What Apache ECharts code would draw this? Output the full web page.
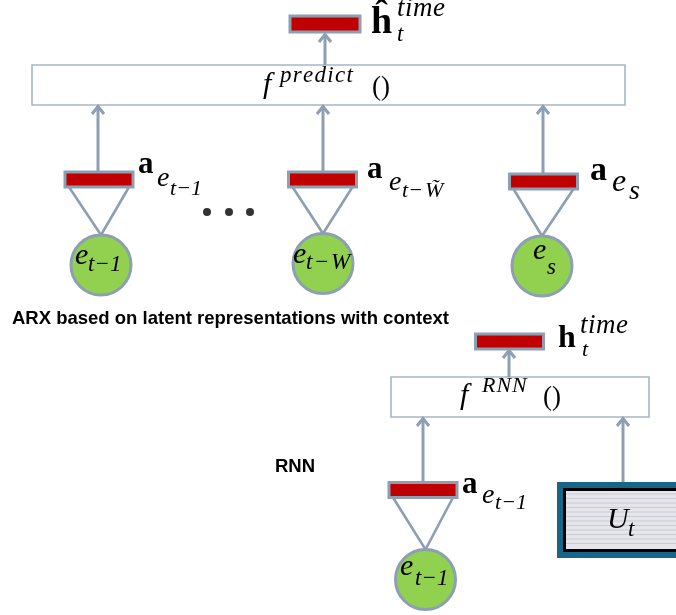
<!DOCTYPE html>
<html><head><meta charset="utf-8">
<script src="https://cdn.jsdelivr.net/npm/echarts@6/dist/echarts.min.js"></script>
<style>html,body{margin:0;padding:0;background:#fff}#c{width:676px;height:615px}</style>
</head><body><div id="c"></div>
<script>
// ---- diagram content, in diagram units (x right, y down) ----
const functionBoxes = [[32, 65, 625, 105], [391, 377, 649, 417]];       // f^predict(), f^RNN()
const signalBoxes = [[557, 482, 700, 558]];                             // U_t
const outputBars = [[325, 24], [509.5, 341.5]];                          // ĥ_t^time, h_t^time
const embedBars = [[99, 179.5], [322.5, 179.5], [543.5, 181.5], [423, 490]]; // a_e
const eventNodes = [[101, 265], [323, 263.5], [542, 266], [425.5, 579.5]];   // e nodes
const arrowLinks = [[325, 65, 33], [98, 172, 105], [323, 172, 105], [543, 174, 105], [509, 377, 349], [423, 483, 417], [623, 482, 417]];
const ellipsisDots = [[207, 212], [229, 212], [250, 212]];
const captions = [['ARX based on latent representations with context', 12, 325], ['RNN', 275, 473]];
const mathText = [
  ['ĥ', 371, 36, 38, 'b', 0], ['time', 397, 18, 27, 'i', 0.5], ['t', 397, 43, 23, 'i', 0],
  ['f', 263, 95, 30, 'i', 0], ['predict', 280, 84, 23, 'i', 1.3], ['()', 372, 97, 27, 'r', 0],
  ['a', 138, 175, 31, 'b', 0], ['e', 157, 188, 28, 'i', 0], ['t−1', 170, 197, 22, 'i', 0],
  ['a', 367, 180, 31, 'b', 0], ['e', 389, 192, 28, 'i', 0], ['t−', 402, 199, 22, 'i', 0], ['W', 425, 199, 22, 'i', 0], ['˜', 431, 196, 22, 'i', 0],
  ['a', 590, 183, 34, 'b', 0], ['e', 612, 193, 32, 'i', 0], ['s', 629, 201, 28, 'i', 0],
  ['e', 75, 266, 30, 'i', 0], ['t−1', 88, 273, 23, 'i', 0],
  ['e', 293, 265, 30, 'i', 0], ['t−W', 306, 271, 23, 'i', 1.5],
  ['e', 533, 261, 30, 'i', 0], ['s', 547, 276, 23, 'i', 0],
  ['f', 460, 406, 30, 'i', 0], ['RNN', 482, 394, 22, 'i', 1], ['()', 543, 407, 27, 'r', 0],
  ['h', 558, 350, 32, 'b', 0], ['time', 580, 335, 27, 'i', 0.5], ['t', 582, 358, 22, 'i', 0],
  ['a', 462, 495, 31, 'b', 0], ['e', 482, 505, 28, 'i', 0], ['t−1', 495, 511, 22, 'i', 0],
  ['e', 400, 577, 30, 'i', 0], ['t−1', 415, 587, 23, 'i', 0],
  ['U', 607, 530, 30, 'i', 0], ['t', 628, 538, 23, 'i', 0]
];

// ---- styling ----
const LINE = '#8c9fb3', BOX = '#a6b6c7', RED = '#c00000', GREEN = '#92d050', TEAL = '#17668a';
const BAR_W = 68, BAR_H = 15, NODE_R = 30;
const SERIF = '"Liberation Serif", "Times New Roman", serif';
const SANS = '"Liberation Sans", Arial, sans-serif';
const mctx = document.createElement('canvas').getContext('2d');
function fontOf(size, st) {
  if (st === 'sans') return 'bold ' + size + 'px ' + SANS;
  return (st === 'b' ? 'bold ' : st === 'i' ? 'italic ' : '') + size + 'px ' + SERIF;
}
function textGroup(str, p, size, font, sp, asc) {
  mctx.font = font;
  const kids = []; let x = p[0];
  const y = p[1] - asc * size;
  for (const ch of str) {
    kids.push({ type: 'text', x: x, y: y, style: { text: ch, font: font, fill: '#000', align: 'left', verticalAlign: 'middle', textAlign: 'left', textVerticalAlign: 'middle' } });
    x += mctx.measureText(ch).width + sp;
  }
  return { type: 'group', children: kids };
}
const xy = a => a.map(d => [d[0], d[1]]);

const chart = echarts.init(document.getElementById('c'), null, { renderer: 'canvas' });
chart.setOption({
  animation: false,
  backgroundColor: '#fff',
  grid: { left: 0, right: 0, top: 0, bottom: 0 },
  xAxis: { type: 'value', min: 0, max: 676, show: false },
  yAxis: { type: 'value', min: 0, max: 615, inverse: true, show: false },
  series: [
    { type: 'custom', silent: true, data: functionBoxes,
      renderItem: (pa, api) => {
        const a = api.coord([api.value(0), api.value(1)]), b = api.coord([api.value(2), api.value(3)]);
        return { type: 'rect', shape: { x: a[0], y: a[1], width: b[0] - a[0], height: b[1] - a[1] }, style: { fill: '#fff', stroke: BOX, lineWidth: 1.6 } };
      } },
    { type: 'custom', silent: true, data: signalBoxes,
      renderItem: (pa, api) => {
        const a = api.coord([api.value(0), api.value(1)]), b = api.coord([api.value(2), api.value(3)]);
        const w = b[0] - a[0], h = b[1] - a[1];
        const kids = [
          { type: 'rect', shape: { x: a[0], y: a[1], width: w, height: h }, style: { fill: TEAL } },
          { type: 'rect', shape: { x: a[0] + 6, y: a[1] + 6, width: w - 6, height: h - 12 }, style: { fill: '#000' } },
          { type: 'rect', shape: { x: a[0] + 9, y: a[1] + 9, width: w - 9, height: h - 18 }, style: { fill: '#e6e6ea' } }
        ];
        for (let yy = a[1] + 12; yy < b[1] - 10; yy += 4.5) {
          kids.push({ type: 'line', shape: { x1: a[0] + 9, y1: yy, x2: b[0], y2: yy }, style: { stroke: '#b9b9c6', lineWidth: 0.6 } });
        }
        return { type: 'group', children: kids };
      } },
    { type: 'custom', silent: true, data: arrowLinks.map(d => [d[0], d[1], d[2]]),
      renderItem: (pa, api) => {
        const p0 = api.coord([api.value(0), api.value(1)]), p1 = api.coord([api.value(0), api.value(2)]);
        const st = { stroke: LINE, lineWidth: 3, fill: 'none' };
        return { type: 'group', children: [
          { type: 'line', shape: { x1: p0[0], y1: p0[1], x2: p1[0], y2: p1[1] + 1 }, style: st },
          { type: 'polyline', shape: { points: [[p1[0] - 6, p1[1] + 9], [p1[0], p1[1] + 1.5], [p1[0] + 6, p1[1] + 9]] }, style: st }
        ] };
      } },
    { type: 'custom', silent: true, data: xy(embedBars),
      renderItem: (pa, api) => {
        const b = api.coord([api.value(0), api.value(1)]);
        const n = eventNodes[pa.dataIndex];
        const c = api.coord([n[0], n[1]]);
        return { type: 'polyline', shape: { points: [[b[0] - BAR_W / 2 + 4, b[1] + BAR_H / 2], [c[0], c[1] - NODE_R], [b[0] + BAR_W / 2 - 4, b[1] + BAR_H / 2]] }, style: { stroke: LINE, lineWidth: 2.6, fill: 'none' } };
      } },
    { type: 'custom', silent: true, data: xy(embedBars).concat(xy(outputBars)),
      renderItem: (pa, api) => {
        const b = api.coord([api.value(0), api.value(1)]);
        const w = pa.dataIndex === embedBars.length ? 70 : BAR_W, h = pa.dataIndex === embedBars.length ? 16 : BAR_H;
        return { type: 'rect', shape: { x: b[0] - w / 2, y: b[1] - h / 2, width: w, height: h }, style: { fill: RED, stroke: LINE, lineWidth: 3 } };
      } },
    { type: 'custom', silent: true, data: xy(eventNodes),
      renderItem: (pa, api) => {
        const c = api.coord([api.value(0), api.value(1)]);
        return { type: 'circle', shape: { cx: c[0], cy: c[1], r: NODE_R }, style: { fill: GREEN, stroke: LINE, lineWidth: 3 } };
      } },
    { type: 'scatter', silent: true, data: ellipsisDots, symbol: 'circle', symbolSize: 8, itemStyle: { color: '#000' } },
    { type: 'custom', silent: true, data: captions.map(c => [c[1], c[2]]),
      renderItem: (pa, api) => {
        const c = captions[pa.dataIndex];
        const p = api.coord([api.value(0), api.value(1)]);
        return textGroup(c[0], p, 18.5, fontOf(18.5, 'sans'), 0, 0.35);
      } },
    { type: 'custom', silent: true, data: mathText.map(m => [m[1], m[2]]),
      renderItem: (pa, api) => {
        const m = mathText[pa.dataIndex];
        const p = api.coord([api.value(0), api.value(1)]);
        return textGroup(m[0], p, m[3], fontOf(m[3], m[4]), m[5], 0.3375);
      } }
  ]
});
</script></body></html>
